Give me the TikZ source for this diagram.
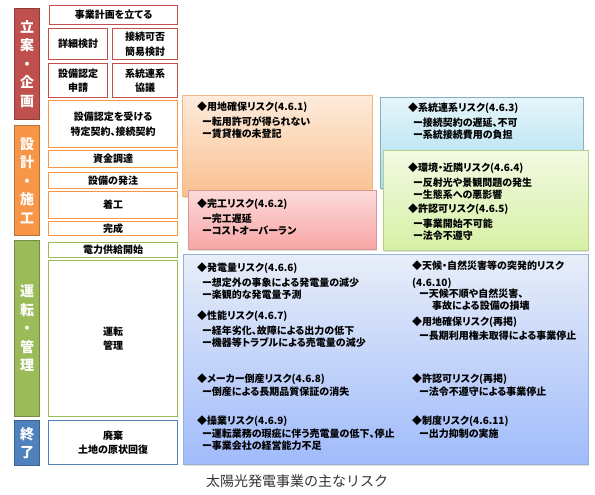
\documentclass[tikz,border=0pt]{standalone}
\usepackage{fontspec}
\setmainfont{Noto Sans CJK JP}[RawFeature=+palt]
\newfontfamily\capfont{Noto Sans CJK JP}
\usetikzlibrary{shadows}

\definecolor{barRed}{HTML}{C0504D}
\definecolor{barOrange}{HTML}{F79646}
\definecolor{barGreen}{HTML}{9BBB59}
\definecolor{barBlue}{HTML}{4F81BD}
\definecolor{landTop}{HTML}{FDEBDC}
\definecolor{landBot}{HTML}{FAC08F}
\definecolor{pinkTop}{HTML}{FCDADA}
\definecolor{pinkBot}{HTML}{F8A6A6}
\definecolor{cyanTop}{HTML}{E6F5FA}
\definecolor{cyanBot}{HTML}{A6DCEF}
\definecolor{limeTop}{HTML}{F3FAE2}
\definecolor{limeBot}{HTML}{D6F0A6}
\definecolor{opTop}{HTML}{E8EEF9}
\definecolor{opBot}{HTML}{A0BBFB}

\newcommand{\phasefont}{\fontsize{14}{18.5}\selectfont\bfseries}
\newcommand{\stepfont}{\fontsize{10}{14.5}\selectfont\bfseries}
\newcommand{\riskfont}{\fontsize{10}{12}\selectfont\bfseries}

\tikzset{
    phasebar/.style={fill=#1, draw=#1!75!black, line width=1pt, minimum width=25pt,
        inner sep=0pt, text=white, align=center, anchor=north west, font=\phasefont},
    stepbox/.style={draw=#1, line width=1.2pt, fill=white, inner sep=0pt,
        align=center, anchor=north west, font=\stepfont},
    riskbox/.style n args={3}{draw=#3, line width=0.8pt, top color=#1, bottom color=#2,
        inner sep=0pt, anchor=north west,
        drop shadow={opacity=0.25, shadow xshift=1pt, shadow yshift=-1.5pt}},
    risktext/.style={anchor=north west, align=left, inner sep=0pt, font=\riskfont}
}

\begin{document}
\begin{tikzpicture}[x=1pt, y=-1pt]
    \useasboundingbox (0,0) rectangle (595,495);

    % Phase bars (left column)
    \foreach \name/\col/\ytop/\ybot/\txt in {
        planning/barRed/8/119/{立\\案\\・\\企\\画},
        design/barOrange/125/235/{設\\計\\・\\施\\工},
        operation/barGreen/240/416/{運\\転\\・\\管\\理},
        ending/barBlue/420/465/{終\\了}} {
        \node[phasebar=\col, minimum height={(\ybot-\ytop)*1pt}] (\name) at (14,\ytop) {\txt};
    }

    % Steps (red)
    \node[stepbox=barRed, minimum width=128pt, minimum height=19pt] (plan) at (49,5) {事業計画を立てる};
    \node[stepbox=barRed, minimum width=59pt, minimum height=31pt] (detail) at (48,28) {詳細検討};
    \node[stepbox=barRed, minimum width=65pt, minimum height=31pt] (feasib) at (112,28) {接続可否\\簡易検討};
    \node[stepbox=barRed, minimum width=59pt, minimum height=34pt] (certapp) at (48,63) {設備認定\\申請};
    \node[stepbox=barRed, minimum width=65pt, minimum height=34pt] (gridtalk) at (112,63) {系統連系\\協議};

    % Steps (orange)
    \node[stepbox=barOrange, minimum width=129pt, minimum height=47pt] (contract) at (48,100) {設備認定を受ける\\特定契約、接続契約};
    \node[stepbox=barOrange, minimum width=129pt, minimum height=17pt] (funding) at (48,150) {資金調達};
    \node[stepbox=barOrange, minimum width=129pt, minimum height=16pt] (order) at (48,172) {設備の発注};
    \node[stepbox=barOrange, minimum width=129pt, minimum height=27pt] (construct) at (48,191) {着工};
    \node[stepbox=barOrange, minimum width=129pt, minimum height=14pt] (complete) at (48,221) {完成};

    % Steps (green / blue)
    \node[stepbox=barGreen, minimum width=129pt, minimum height=15pt] (supply) at (48,242) {電力供給開始};
    \node[stepbox=barGreen, minimum width=129pt, minimum height=156pt] (operate) at (48,260) {運転\\管理};
    \node[stepbox=barBlue, minimum width=129pt, minimum height=44pt] (decommission) at (48,420) {廃棄\\土地の原状回復};

    % Risk boxes (back to front)
    \node[riskbox={landTop}{landBot}{barOrange!70}, minimum width=190pt, minimum height=101pt] (landbox) at (182,95) {};
    \node[riskbox={cyanTop}{cyanBot}{cyanBot!80!black}, minimum width=203pt, minimum height=91pt] (gridbox) at (380,97) {};
    \node[riskbox={pinkTop}{pinkBot}{barRed!60}, minimum width=188pt, minimum height=59pt] (completebox) at (188,190) {};
    \node[riskbox={limeTop}{limeBot}{barGreen!70}, minimum width=205pt, minimum height=100pt] (envbox) at (383,150) {};
    \node[riskbox={opTop}{opBot}{barBlue!60}, minimum width=405pt, minimum height=210pt] (opbox) at (183,254) {};

    % Risk texts
    \node[risktext] (r461) at (197,101.5) {◆用地確保リスク(4.6.1)\\[3pt]\hspace*{5pt}ー転用許可が得られない\\\hspace*{5pt}ー賃貸権の未登記};
    \node[risktext] (r462) at (197,198.5) {◆完工リスク(4.6.2)\\[3pt]\hspace*{5pt}ー完工遅延\\\hspace*{5pt}ーコストオーバーラン};
    \node[risktext] (r463) at (408,102.5) {◆系統連系リスク(4.6.3)\\[3pt]\hspace*{5pt}ー接続契約の遅延、不可\\\hspace*{5pt}ー系統接続費用の負担};
    \node[risktext] (r464) at (408,162.5) {◆環境・近隣リスク(4.6.4)\\[3pt]\hspace*{5pt}ー反射光や景観問題の発生\\\hspace*{5pt}ー生態系への悪影響};
    \node[risktext] (r465) at (408,203.5) {◆許認可リスク(4.6.5)\\[3pt]\hspace*{5pt}ー事業開始不可能\\\hspace*{5pt}ー法令不遵守};
    \node[risktext] (r466) at (197,262.5) {◆発電量リスク(4.6.6)\\[3pt]\hspace*{5pt}ー想定外の事象による発電量の減少\\\hspace*{5pt}ー楽観的な発電量予測};
    \node[risktext] (r467) at (197,310.5) {◆性能リスク(4.6.7)\\[3pt]\hspace*{5pt}ー経年劣化、故障による出力の低下\\\hspace*{5pt}ー機器等トラブルによる売電量の減少};
    \node[risktext] (r468) at (197,373.5) {◆メーカー倒産リスク(4.6.8)\\[1pt]\hspace*{5pt}ー倒産による長期品質保証の消失};
    \node[risktext] (r469) at (197,415.5) {◆操業リスク(4.6.9)\\[1pt]\hspace*{5pt}ー運転業務の瑕疵に伴う売電量の低下、停止\\\hspace*{5pt}ー事業会社の経営能力不足};
    \node[risktext] (r4610) at (412,260.5) {◆天候・自然災害等の突発的リスク\\[5pt](4.6.10)\\[-1pt]\hspace*{7pt}ー天候不順や自然災害、\\\hspace*{20pt}事故による設備の損壊};
    \node[risktext] (rland2) at (412,316.5) {◆用地確保リスク(再掲)\\[2pt]\hspace*{7pt}ー長期利用権未取得による事業停止};
    \node[risktext] (rpermit2) at (412,373.5) {◆許認可リスク(再掲)\\[1pt]\hspace*{7pt}ー法令不遵守による事業停止};
    \node[risktext] (r4611) at (412,415.5) {◆制度リスク(4.6.11)\\[1pt]\hspace*{7pt}ー出力抑制の実施};

    % Caption
    \node[font=\capfont\fontsize{14}{14}\selectfont, text=black!80] (caption) at (297,481) {太陽光発電事業の主なリスク};
\end{tikzpicture}
\end{document}
